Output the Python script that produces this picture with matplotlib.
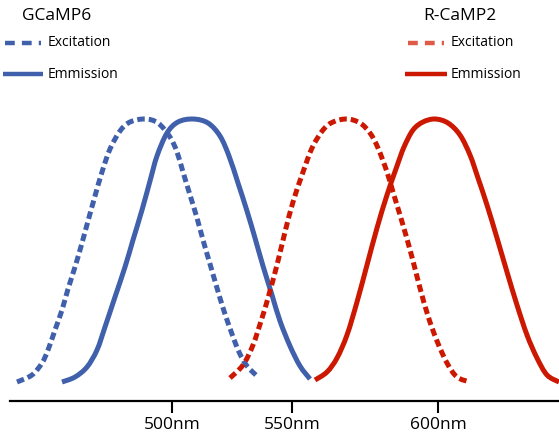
import matplotlib
matplotlib.use('Agg')
import matplotlib.pyplot as plt
import numpy as np
from matplotlib.lines import Line2D
from matplotlib.path import Path
from matplotlib.patches import PathPatch

plt.rcParams['font.family'] = ['Open Sans', 'DejaVu Sans']

# x positions along the axis (pixel-like units), y read as pixel rows, turned into intensity below
tick_pos = [172, 292, 438]
tick_labels = ['500nm', '550nm', '600nm']

g_exc_x = [17, 32, 42, 48, 55, 62, 68, 75, 82, 88, 95, 102, 110, 120, 130, 145,
           158, 170, 177, 183, 190, 197, 203, 210, 217, 224, 232, 239, 247, 258]
g_exc_y = [382, 375, 363, 350, 330, 310, 289, 267, 243, 221, 196, 172, 149, 131, 122, 119,
           123, 137, 152, 172, 195, 218, 240, 264, 288, 311, 334, 352, 366, 377]

g_em_x = [62, 75, 87, 97, 105, 115, 125, 133, 142, 150, 157, 167, 178, 193,
          208, 220, 229, 238, 247, 255, 263, 272, 280, 290, 300, 310]
g_em_y = [382, 377, 367, 350, 327, 297, 267, 240, 210, 181, 156, 133, 122, 119,
          123, 136, 156, 183, 211, 238, 266, 295, 321, 346, 366, 379]

r_exc_x = [230, 243, 253, 262, 268, 277, 285, 293, 302, 312, 323, 333, 347,
           360, 370, 378, 387, 393, 400, 407, 413, 420, 428, 437, 447, 457, 470]
r_exc_y = [378, 365, 345, 318, 298, 265, 232, 202, 175, 148, 130, 122, 119,
           123, 133, 148, 172, 192, 215, 239, 261, 288, 316, 341, 363, 377, 382]

r_em_x = [315, 327, 337, 347, 357, 367, 377, 387, 397, 404, 413, 423, 435,
          448, 460, 470, 478, 487, 497, 507, 517, 527, 537, 547, 559]
r_em_y = [380, 372, 358, 335, 302, 265, 228, 195, 166, 147, 130, 122, 119,
          123, 135, 155, 178, 205, 238, 272, 305, 335, 358, 375, 382]


def level(ys):
    return [(383 - v) / 265 for v in ys]


def smooth_path(xs, ys):
    # Catmull-Rom through the read points, drawn as cubic Bezier segments
    p = np.column_stack([xs, level(ys)])
    ext = np.vstack([p[0], p, p[-1]])
    verts = [p[0]]
    codes = [Path.MOVETO]
    for i in range(len(p) - 1):
        a, b, c, d = ext[i], ext[i + 1], ext[i + 2], ext[i + 3]
        verts += [b + (c - a) / 6, c - (d - b) / 6, c]
        codes += [Path.CURVE4] * 3
    return Path(verts, codes)


blue = '#4060ab'
red = '#cc1800'
red_light = '#e05a48'

fig = plt.figure(figsize=(5.59, 4.38), dpi=100)
ax = fig.add_axes([10 / 559, 37 / 438, 549 / 559, 401 / 438])
ax.set_xlim(10, 559)
ax.set_ylim(-18 / 265, 383 / 265)

dash = (1.5, 0.8)
curves = [
    (g_exc_x, g_exc_y, blue, True),
    (g_em_x, g_em_y, blue, False),
    (r_exc_x, r_exc_y, red, True),
    (r_em_x, r_em_y, red, False),
]
for xs, ys, col, dashed in curves:
    patch = PathPatch(smooth_path(xs, ys), fill=False, edgecolor=col, lw=3.6,
                      capstyle='butt', clip_on=False)
    if dashed:
        patch.set_linestyle((0, dash))
    ax.add_patch(patch)

for s in ['top', 'right', 'left']:
    ax.spines[s].set_visible(False)
ax.spines['bottom'].set_linewidth(1.6)
ax.set_yticks([])
ax.set_xticks(tick_pos)
ax.set_xticklabels(tick_labels, fontsize=12.5)
ax.tick_params(axis='x', length=8.6, width=1.5, pad=3)


# legend drawn by hand in figure pixels
def fx(px):
    return px / 559


def fy(py):
    return 1 - py / 438


def legend_line(x0, x1, y, color, dashed):
    ln = Line2D([fx(x0), fx(x1)], [fy(y), fy(y)], transform=fig.transFigure,
                color=color, lw=3.2, solid_capstyle='butt', dash_capstyle='butt')
    if dashed:
        ln.set_linestyle((0, (2.2, 1.6)))
    fig.add_artist(ln)


fig.text(fx(57), fy(16), 'GCaMP6', ha='center', va='center', fontsize=12.5)
legend_line(5, 41, 43, blue, True)
legend_line(3, 43, 74, blue, False)
fig.text(fx(48), fy(43), 'Excitation', va='center', fontsize=10)
fig.text(fx(48), fy(74), 'Emmission', va='center', fontsize=10)

fig.text(fx(460), fy(16), 'R-CaMP2', ha='center', va='center', fontsize=12.5)
legend_line(408, 444, 43, red_light, True)
legend_line(405, 447, 74, red, False)
fig.text(fx(451), fy(43), 'Excitation', va='center', fontsize=10)
fig.text(fx(451), fy(74), 'Emmission', va='center', fontsize=10)

fig.savefig('out.png', dpi=100)
